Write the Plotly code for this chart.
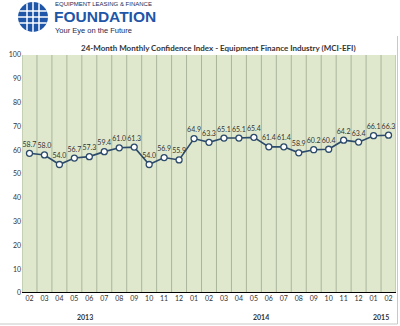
import plotly.graph_objects as go

# Monthly Confidence Index values, Feb 2013 through Feb 2015
months = ["02", "03", "04", "05", "06", "07", "08", "09", "10", "11", "12",
          "01", "02", "03", "04", "05", "06", "07", "08", "09", "10", "11", "12",
          "01", "02"]
mci = [58.7, 58.0, 54.0, 56.7, 57.3, 59.4, 61.0, 61.3, 54.0, 56.9, 55.9,
       64.9, 63.3, 65.1, 65.1, 65.4, 61.4, 61.4, 58.9, 60.2, 60.4, 64.2, 63.4,
       66.1, 66.3]
years = ["2013", "2014", "2015"]
year_pos = [3.7, 15.5, 23.5]

W, H = 400, 326
L, R, T, B = 22, 4, 55, 33
PW, PH = W - L - R, H - T - B


def px(x):
    return (x - L) / PW


def py(y):
    return (H - B - y) / PH


xs = list(range(len(months)))
FONT = "Lato"

fig = go.Figure()
fig.add_trace(go.Scatter(
    x=xs, y=mci, mode="lines+markers+text",
    line=dict(color="#2c4a6b", width=1.6),
    marker=dict(size=6, color="white", line=dict(color="#2c4a6b", width=1.3)),
    text=[f"{v:.1f}" for v in mci], textposition="top center",
    textfont=dict(family=FONT, size=7, color="#333333"),
    hoverinfo="skip", cliponaxis=False,
))

shapes = []
# vertical band separators
for i in range(len(months) + 1):
    shapes.append(dict(type="line", xref="x", yref="y", x0=i - 0.5, x1=i - 0.5,
                       y0=0, y1=100, line=dict(color="#a9b59c", width=1), layer="below"))
# outer frame (right and bottom)
shapes.append(dict(type="line", xref="paper", yref="paper", x0=px(397.5), x1=px(397.5),
                   y0=py(36), y1=py(324), line=dict(color="#c8c8c8", width=1)))
shapes.append(dict(type="line", xref="paper", yref="paper", x0=px(0), x1=px(397.5),
                   y0=py(324), y1=py(324), line=dict(color="#c8c8c8", width=1)))
# globe emblem
cx, cy, r = 33, 17, 15
shapes.append(dict(type="circle", xref="paper", yref="paper",
                   x0=px(cx - r), x1=px(cx + r), y0=py(cy + r), y1=py(cy - r),
                   fillcolor="#1f56a8", line=dict(color="#1f56a8", width=0)))
for dy in (-6, 0, 6):
    half = (r * r - dy * dy) ** 0.5
    shapes.append(dict(type="line", xref="paper", yref="paper",
                       x0=px(cx - half), x1=px(cx + half), y0=py(cy + dy), y1=py(cy + dy),
                       line=dict(color="white", width=1.5)))
for dx in (-6, 0, 6):
    half = (r * r - dx * dx) ** 0.5
    shapes.append(dict(type="line", xref="paper", yref="paper",
                       x0=px(cx + dx), x1=px(cx + dx), y0=py(cy - half), y1=py(cy + half),
                       line=dict(color="white", width=1.5)))

annotations = [
    dict(text="EQUIPMENT LEASING &amp; FINANCE", x=px(54), y=py(0.5), xref="paper", yref="paper",
         xanchor="left", yanchor="top", showarrow=False, borderpad=0,
         font=dict(family="Liberation Sans", size=6, color="#1a2a55")),
    dict(text="<b>FOUNDATION</b>", x=px(53), y=py(26), xref="paper", yref="paper",
         xanchor="left", yanchor="bottom", showarrow=False, borderpad=0,
         font=dict(family="Liberation Sans", size=15.5, color="#1f56a8")),
    dict(text="Your Eye on the Future", x=px(54), y=py(36), xref="paper", yref="paper",
         xanchor="left", yanchor="bottom", showarrow=False, borderpad=0,
         font=dict(family="Liberation Sans", size=7.5, color="#1a2a55")),
    dict(text="<b>24-Month Monthly Confidence Index - Equipment Finance Industry (MCI-EFI)</b>",
         x=px(218), y=py(48), xref="paper", yref="paper", xanchor="center", yanchor="middle",
         showarrow=False, font=dict(family=FONT, size=8, color="#333333")),
]
for yr, pos in zip(years, year_pos):
    annotations.append(dict(text=f"<b>{yr}</b>", x=pos, y=py(317), xref="x", yref="paper",
                            xanchor="center", yanchor="middle", showarrow=False,
                            font=dict(family=FONT, size=7, color="#333333")))

fig.update_layout(
    width=W, height=H, margin=dict(l=L, r=R, t=T, b=B),
    paper_bgcolor="white", plot_bgcolor="#dfe8cc",
    showlegend=False, shapes=shapes, annotations=annotations,
    xaxis=dict(range=[-0.5, len(months) - 0.5], tickvals=xs, ticktext=months,
               showgrid=False, zeroline=False, ticks="", ticklen=0,
               tickfont=dict(family=FONT, size=7, color="#333333"),
               showline=False, fixedrange=True),
    yaxis=dict(range=[0, 100], tickvals=list(range(0, 101, 10)), showgrid=False,
               zeroline=False, ticks="", tickfont=dict(family=FONT, size=7, color="#333333"),
               showline=False, fixedrange=True),
)
# heavy baseline along the bottom of the plot
fig.add_shape(type="line", xref="x", yref="y", x0=-0.5, x1=len(months) - 0.5, y0=0, y1=0,
              line=dict(color="black", width=2))

fig.write_html("out.html")
